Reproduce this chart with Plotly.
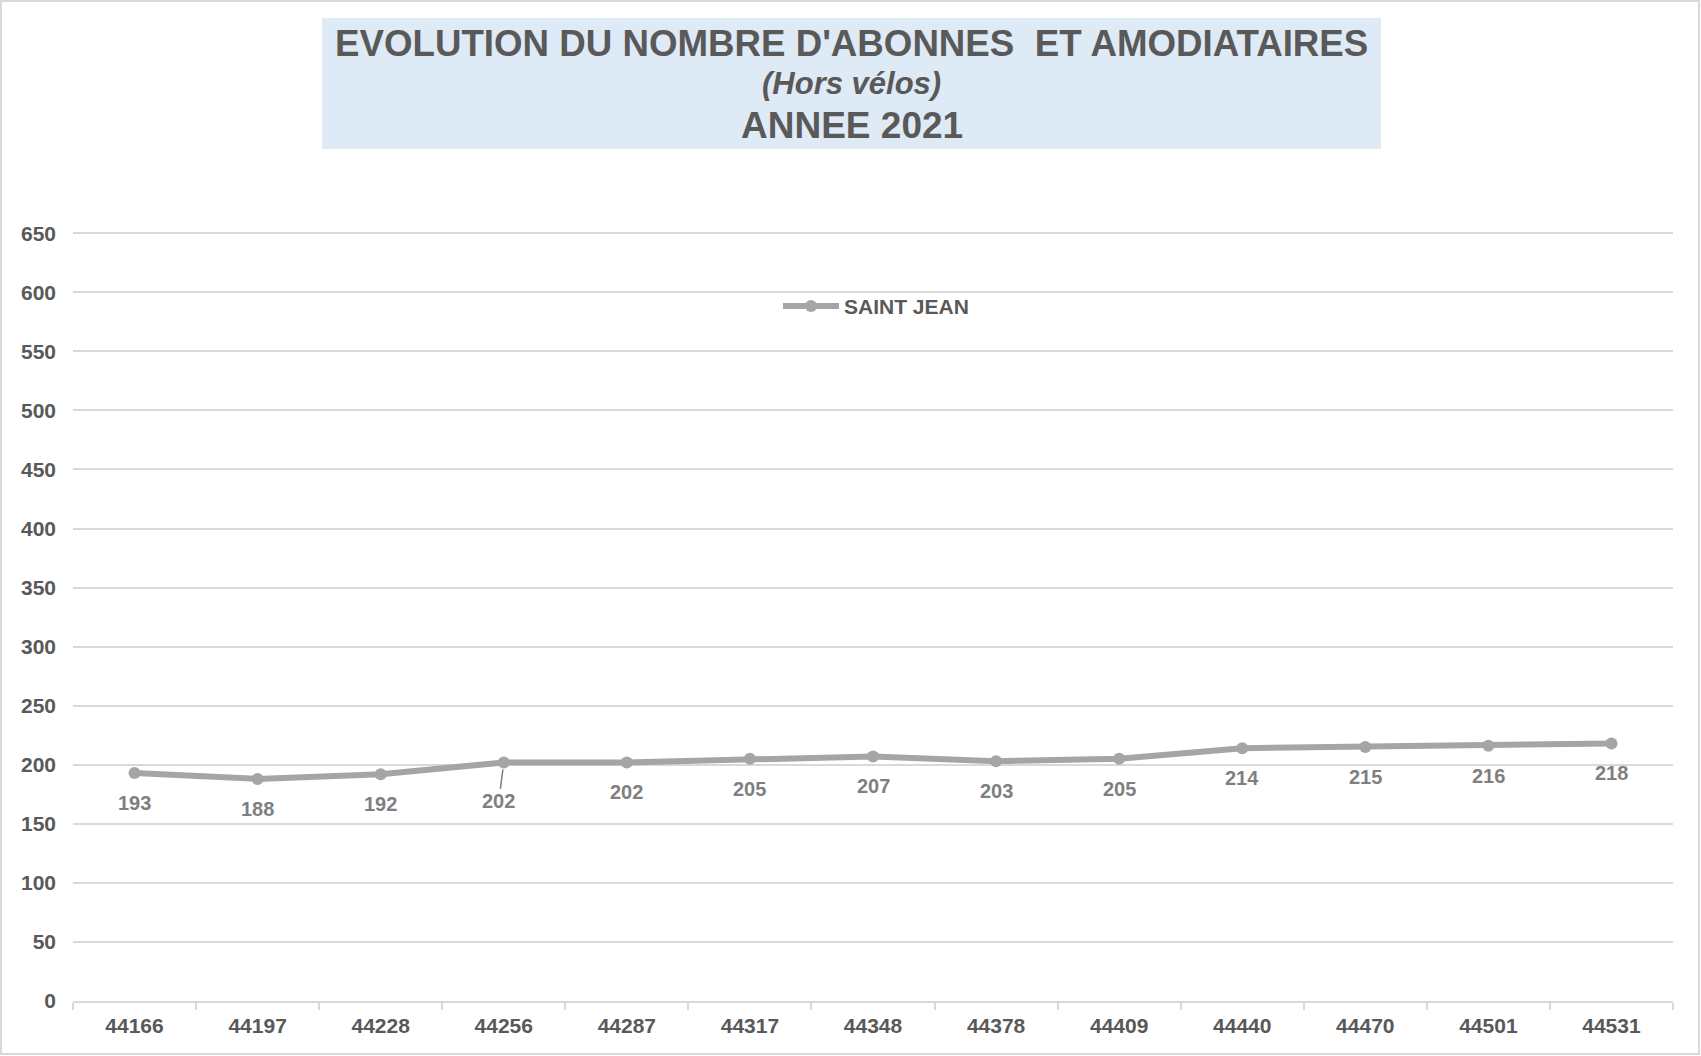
import plotly.graph_objects as go

categories = ["44166", "44197", "44228", "44256", "44287", "44317", "44348",
              "44378", "44409", "44440", "44470", "44501", "44531"]
values = [193, 188, 192, 202, 202, 205, 207, 203, 205, 214, 215, 216, 218]
series_name = "SAINT JEAN"
y_ticks = list(range(0, 651, 50))

W, H = 1701, 1056
ML, MR, MT, MB = 73, 28, 232, 55
PW, PH = W - ML - MR, H - MT - MB

def px(xpix):
    return (xpix - ML) / PW

def py(ypix):
    return (H - MB - ypix) / PH

FONT = "Liberation Sans, Arial, sans-serif"
DARK = "#595959"
LINE = "#A5A5A5"
LABEL = "#7F7F7F"
GRID = "#D9D9D9"

idx = list(range(len(categories)))
bounds = [i - 0.5 for i in range(len(categories) + 1)]

fig = go.Figure()
fig.add_trace(go.Scatter(
    x=idx, y=values, mode="lines+markers", name=series_name, showlegend=False,
    line=dict(color=LINE, width=6),
    marker=dict(color=LINE, size=12),
))

annotations = []
for i, v in zip(idx, values):
    if i == 3:
        annotations.append(dict(
            x=i, y=v, xref="x", yref="y", text=str(v),
            showarrow=True, arrowhead=0, arrowwidth=1.5, arrowcolor=LABEL,
            ax=-5, ay=39, standoff=7,
            font=dict(family=FONT, size=20, color=LABEL, weight="bold"),
        ))
    else:
        annotations.append(dict(
            x=i, y=v, xref="x", yref="y", text=str(v), showarrow=False,
            yshift=-30,
            font=dict(family=FONT, size=20, color=LABEL, weight="bold"),
        ))

title_x = px(851.6)
annotations += [
    dict(x=title_x, y=py(44), xref="paper", yref="paper", showarrow=False,
         text="EVOLUTION DU NOMBRE D'ABONNES  ET AMODIATAIRES", yanchor="middle",
         font=dict(family=FONT, size=36.7, color=DARK, weight="bold")),
    dict(x=title_x, y=py(84), xref="paper", yref="paper", showarrow=False,
         text="<i>(Hors vélos)</i>", yanchor="middle",
         font=dict(family=FONT, size=31, color=DARK, weight="bold")),
    dict(x=title_x, y=py(125), xref="paper", yref="paper", showarrow=False,
         text="ANNEE 2021", yanchor="middle",
         font=dict(family=FONT, size=37, color=DARK, weight="bold")),
    # legend text
    dict(x=px(842), y=py(306), xref="paper", yref="paper", showarrow=False,
         text=series_name, xanchor="left", yanchor="middle",
         font=dict(family=FONT, size=21, color=DARK, weight="bold")),
]

r = 6
shapes = [
    dict(type="rect", xref="paper", yref="paper",
         x0=px(322), x1=px(1381), y0=py(149), y1=py(18),
         fillcolor="#DEEAF6", line=dict(width=0), layer="below"),
    dict(type="rect", xref="paper", yref="paper",
         x0=px(1), x1=px(1699), y0=py(1054), y1=py(1),
         fillcolor="rgba(0,0,0,0)", line=dict(color=GRID, width=2)),
    # legend symbol
    dict(type="line", xref="paper", yref="paper",
         x0=px(783), x1=px(839), y0=py(306), y1=py(306),
         line=dict(color=LINE, width=6)),
    dict(type="circle", xref="paper", yref="paper",
         x0=px(811 - r), x1=px(811 + r), y0=py(306 + r), y1=py(306 - r),
         fillcolor=LINE, line=dict(width=0)),
]

fig.update_layout(
    width=W, height=H,
    margin=dict(l=ML, r=MR, t=MT, b=MB, autoexpand=False),
    paper_bgcolor="white", plot_bgcolor="white",
    showlegend=False,
    annotations=annotations,
    shapes=shapes,
    xaxis=dict(
        range=[-0.5, len(categories) - 0.5], tickvals=idx, ticktext=categories,
        tickangle=0, automargin=False,
        showgrid=False, zeroline=False, showline=True, linecolor=GRID, linewidth=1.5,
        ticks="",
        minor=dict(tickvals=bounds, ticks="outside", ticklen=7, tickcolor=GRID,
                   tickwidth=1.5, showgrid=False),
        tickfont=dict(family=FONT, size=21, color=DARK, weight="bold"),
        ticklabelstandoff=5, fixedrange=True,
    ),
    yaxis=dict(
        range=[0, 651], tickvals=y_ticks, showgrid=True, gridcolor=GRID, gridwidth=1.5,
        zeroline=False, showline=False, automargin=False,
        tickfont=dict(family=FONT, size=21, color=DARK, weight="bold"),
        ticklabelstandoff=16, fixedrange=True,
    ),
)

fig.write_html("out.html", config={"displayModeBar": False},
               post_script="document.body.style.margin='0px';document.body.style.overflow='hidden';")
